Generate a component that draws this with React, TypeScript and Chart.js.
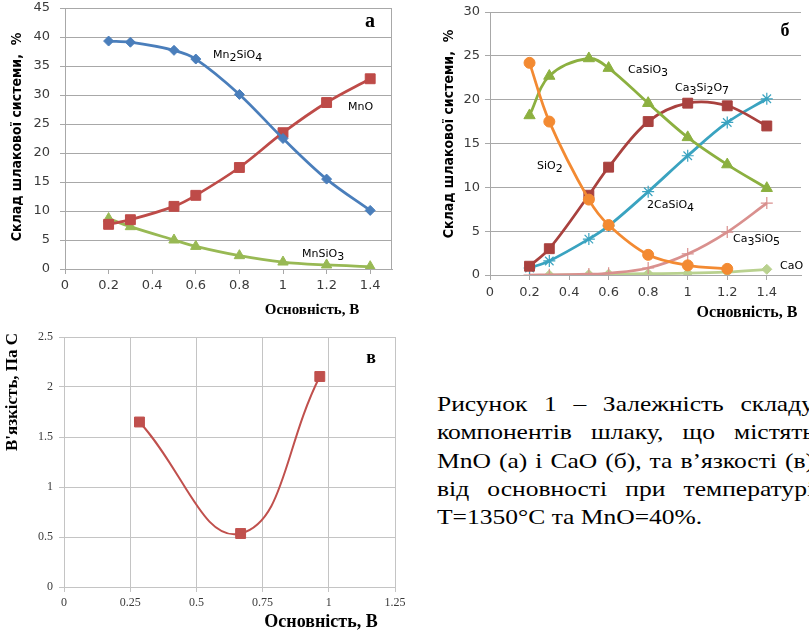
import React, { useEffect, useRef } from "react";
import { Chart, registerables } from "chart.js";
Chart.register(...registerables);

// ---------- Chart а : MnO system ----------
const basicityA = [0.2, 0.3, 0.5, 0.6, 0.8, 1.0, 1.2, 1.4];
const mn2sio4 = [39.3, 39.1, 37.7, 36.2, 30.1, 22.5, 15.5, 10.1];
const mno = [7.7, 8.5, 10.8, 12.7, 17.5, 23.5, 28.7, 32.8];
const mnsio3 = [8.7, 7.3, 5.0, 3.9, 2.3, 1.2, 0.7, 0.4];
const xTicksA = [0, 0.2, 0.4, 0.6, 0.8, 1, 1.2, 1.4];
const yTicksA = [0, 5, 10, 15, 20, 25, 30, 35, 40, 45];

// ---------- Chart б : CaO system ----------
const basicityB = [0.2, 0.3, 0.5, 0.6, 0.8, 1.0, 1.2, 1.4];
const sio2 = [24.2, 17.5, 8.6, 5.7, 2.3, 1.1, 0.7, null];
const casio3 = [18.2, 22.7, 24.7, 23.6, 19.6, 15.7, 12.6, 9.9];
const ca3si2o7 = [1.0, 3.0, 9.1, 12.3, 17.5, 19.6, 19.3, 17.0];
const ca2sio4 = [0.8, 1.6, 4.1, 5.6, 9.5, 13.6, 17.4, 20.1];
const ca3sio5 = [0.0, 0.02, 0.1, 0.2, 0.8, 2.4, 4.9, 8.2];
const cao = [null, 0.0, 0.05, 0.1, 0.15, 0.2, 0.35, 0.65];
const xTicksB = [0, 0.2, 0.4, 0.6, 0.8, 1, 1.2, 1.4];
const yTicksB = [0, 5, 10, 15, 20, 25, 30];

// ---------- Chart в : viscosity ----------
const basicityC = [0.285, 0.667, 0.966];
const viscosity = [1.65, 0.535, 2.105];
const xTicksC = [0, 0.25, 0.5, 0.75, 1, 1.25];
const yTicksC = [0, 0.5, 1, 1.5, 2, 2.5];

const captionLines = [
  "Рисунок 1 – Залежність складу",
  "компонентів шлаку, що містять",
  "MnO (а) і CaO (б), та в’язкості (в)",
  "від основності при температурі",
  "T=1350°C та MnO=40%.",
];

const SANS = "'DejaVu Sans', Verdana, sans-serif";
const SERIF = "'Liberation Serif', 'Times New Roman', serif";
const NARROW = "'Liberation Sans Narrow', 'DejaVu Sans Condensed', 'Arial Narrow', Arial, sans-serif";

type Lbl = {
  text: string;
  x: number;
  y: number;
  font: string;
  color?: string;
  align?: "left" | "center" | "right";
  rot?: number;
};

function drawRich(ctx: CanvasRenderingContext2D, l: Lbl) {
  ctx.save();
  ctx.translate(l.x, l.y);
  if (l.rot) ctx.rotate(l.rot);
  ctx.fillStyle = l.color || "#000";
  ctx.textBaseline = "middle";
  ctx.textAlign = "left";
  const parts = l.text.split(/(_\d)/).filter((p) => p.length);
  const segs = parts.map((p) => (p.startsWith("_") ? { t: p.slice(1), sub: true } : { t: p, sub: false }));
  ctx.font = l.font;
  let total = 0;
  const widths = segs.map((s) => {
    const w = ctx.measureText(s.t).width;
    total += w;
    return w;
  });
  let x0 = l.align === "center" ? -total / 2 : l.align === "right" ? -total : 0;
  segs.forEach((s, i) => {
    ctx.fillText(s.t, x0, s.sub ? 3 : 0);
    x0 += widths[i];
  });
  ctx.restore();
}

const figText = {
  id: "figText",
  afterDraw(chart: any, _a: any, opts: any) {
    const ctx = chart.ctx as CanvasRenderingContext2D;
    const ca = chart.chartArea;
    if (opts.frameRight) {
      ctx.save();
      ctx.strokeStyle = opts.frameColor;
      ctx.lineWidth = 1;
      ctx.beginPath();
      ctx.moveTo(Math.round(ca.right) - 0.5, ca.top);
      ctx.lineTo(Math.round(ca.right) - 0.5, ca.bottom);
      ctx.stroke();
      ctx.restore();
    }
    (opts.labels || []).forEach((l: Lbl) => drawRich(ctx, l));
  },
};

const pts = (xs: number[], ys: (number | null)[]) =>
  xs.map((x, i) => ({ x, y: ys[i] })).filter((p) => p.y !== null) as { x: number; y: number }[];

const fixW = (w: number) => (s: any) => {
  s.width = w;
  s.paddingTop = 0;
  s.paddingBottom = 0;
  s.paddingLeft = 0;
  s.paddingRight = 0;
};
const fixH = (h: number) => (s: any) => {
  s.height = h;
  s.paddingTop = 0;
  s.paddingBottom = 0;
  s.paddingLeft = 0;
  s.paddingRight = 0;
};
const setTicks = (vals: number[]) => (s: any) => {
  s.ticks = vals.map((v) => ({ value: v }));
};

function series(label: string, data: any[], color: string, style: string, radius: number, extra: any = {}) {
  return {
    label,
    data,
    borderColor: color,
    backgroundColor: color,
    borderWidth: 2.75,
    pointStyle: style,
    pointRadius: radius,
    pointBackgroundColor: color,
    pointBorderColor: color,
    pointBorderWidth: 1,
    tension: 0.35,
    fill: false,
    ...extra,
  };
}

function axis(opts: {
  min: number;
  max: number;
  ticks: number[];
  fit: (s: any) => void;
  grid: boolean;
  gridColor: string;
  font: any;
  pad: number;
}) {
  return {
    type: "linear",
    min: opts.min,
    max: opts.max,
    bounds: "data",
    afterBuildTicks: setTicks(opts.ticks),
    afterFit: opts.fit,
    border: { display: true, color: opts.gridColor, width: 1 },
    grid: {
      display: true,
      drawOnChartArea: opts.grid,
      drawTicks: true,
      tickLength: 5,
      color: opts.gridColor,
      lineWidth: 1,
    },
    ticks: {
      autoSkip: false,
      maxRotation: 0,
      minRotation: 0,
      padding: opts.pad,
      color: "#3a3a3a",
      font: opts.font,
      callback: (v: any) => String(v),
    },
    title: { display: false },
  };
}

function configA(): any {
  const grid = "#a8a8a8";
  const f = { family: SANS, size: 13 };
  return {
    type: "line",
    data: {
      datasets: [
        series("Mn2SiO4", pts(basicityA, mn2sio4), "#4a7ebb", "rectRot", 5),
        series("MnO", pts(basicityA, mno), "#be4b48", "rect", 7),
        series("MnSiO3", pts(basicityA, mnsio3), "#98b954", "triangle", 6),
      ],
    },
    options: {
      responsive: false,
      animation: false,
      layout: { padding: { top: 8, right: 5, left: 0, bottom: 0 } },
      plugins: {
        legend: { display: false },
        tooltip: { enabled: false },
        figText: {
          frameRight: true,
          frameColor: grid,
          labels: [
            { text: "Mn_2SiO_4", x: 213, y: 55, font: `11px ${SANS}` },
            { text: "MnO", x: 348, y: 107, font: `11px ${SANS}` },
            { text: "MnSiO_3", x: 302, y: 254, font: `11px ${SANS}` },
            { text: "а", x: 370, y: 22, font: `bold 20px ${SERIF}`, align: "center" },
            { text: "Склад шлакової системи,  %", x: 17, y: 137, font: `bold 14px ${NARROW}`, align: "center", rot: -Math.PI / 2 },
            { text: "Основність, В", x: 312, y: 310, font: `bold 15px ${SERIF}`, align: "center" },
          ],
        },
      },
      scales: {
        x: axis({ min: 0, max: 1.5, ticks: xTicksA, fit: fixH(51), grid: false, gridColor: grid, font: f, pad: 4 }),
        y: axis({ min: 0, max: 45, ticks: yTicksA, fit: fixW(65), grid: true, gridColor: grid, font: f, pad: 10 }),
      },
    },
    plugins: [figText],
  };
}

function configB(): any {
  const grid = "#a8a8a8";
  const f = { family: SANS, size: 13 };
  return {
    type: "line",
    data: {
      datasets: [
        series("SiO2", pts(basicityB, sio2), "#f38a32", "circle", 5.5),
        series("CaSiO3", pts(basicityB, casio3), "#8cb040", "triangle", 6.5),
        series("Ca3Si2O7", pts(basicityB, ca3si2o7), "#a9413e", "rect", 7),
        series("2CaSiO4", pts(basicityB, ca2sio4), "#3aa3c0", "star", 6, { pointBorderWidth: 1.2 }),
        series("Ca3SiO5", pts(basicityB, ca3sio5), "#d9908e", "cross", 6, { pointBorderWidth: 1.2 }),
        series("CaO", pts(basicityB, cao), "#b9d18f", "rectRot", 5),
      ],
    },
    options: {
      responsive: false,
      animation: false,
      layout: { padding: { top: 12, right: 0, left: 0, bottom: 0 } },
      plugins: {
        legend: { display: false },
        tooltip: { enabled: false },
        figText: {
          labels: [
            { text: "CaSiO_3", x: 228, y: 70, font: `11px ${SANS}` },
            { text: "Ca_3Si_2O_7", x: 275, y: 88, font: `11px ${SANS}` },
            { text: "SiO_2", x: 137, y: 166, font: `11px ${SANS}` },
            { text: "2CaSiO_4", x: 247, y: 205, font: `11px ${SANS}` },
            { text: "Ca_3SiO_5", x: 333, y: 239, font: `11px ${SANS}` },
            { text: "CaO", x: 380, y: 266, font: `11px ${SANS}` },
            { text: "б", x: 385, y: 31, font: `bold 18px ${SERIF}`, align: "center" },
            { text: "Склад шлакової системи,  %", x: 49, y: 134, font: `bold 14px ${NARROW}`, align: "center", rot: -Math.PI / 2 },
            { text: "Основність, В", x: 347, y: 313, font: `bold 16px ${SERIF}`, align: "center" },
          ],
        },
      },
      scales: {
        x: axis({ min: 0, max: 1.573, ticks: xTicksB, fit: fixH(45), grid: false, gridColor: grid, font: f, pad: 5 }),
        y: axis({ min: 0, max: 30, ticks: yTicksB, fit: fixW(90), grid: true, gridColor: grid, font: f, pad: 5 }),
      },
    },
    plugins: [figText],
  };
}

function configC(): any {
  const grid = "#c4c4c4";
  const f = { family: SERIF, size: 12 };
  return {
    type: "line",
    data: {
      datasets: [
        series("В'язкість", pts(basicityC, viscosity), "#c0504d", "rect", 7, { borderWidth: 2, tension: 0.45 }),
      ],
    },
    options: {
      responsive: false,
      animation: false,
      layout: { padding: { top: 17, right: 25, left: 0, bottom: 0 } },
      plugins: {
        legend: { display: false },
        tooltip: { enabled: false },
        figText: {
          labels: [
            { text: "в", x: 371, y: 38, font: `bold 18px ${SERIF}`, align: "center" },
            { text: "В'язкість, Па С", x: 13, y: 72, font: `bold 17px ${SERIF}`, align: "center", rot: -Math.PI / 2 },
            { text: "Основність, В", x: 321, y: 302, font: `bold 18px ${SERIF}`, align: "center" },
          ],
        },
      },
      scales: {
        x: axis({ min: 0, max: 1.25, ticks: xTicksC, fit: fixH(46), grid: true, gridColor: grid, font: f, pad: 4 }),
        y: axis({ min: 0, max: 2.5, ticks: yTicksC, fit: fixW(64), grid: true, gridColor: grid, font: f, pad: 6 }),
      },
    },
    plugins: [figText],
  };
}

function ChartBox(props: { left: number; top: number; width: number; height: number; make: () => any }) {
  const ref = useRef<HTMLCanvasElement | null>(null);
  useEffect(() => {
    const chart = new Chart(ref.current as HTMLCanvasElement, props.make());
    return () => chart.destroy();
  }, []);
  return (
    <canvas
      ref={ref}
      width={props.width}
      height={props.height}
      style={{ position: "absolute", left: props.left, top: props.top, width: props.width, height: props.height }}
    />
  );
}

export default function App() {
  return (
    <div
      style={{
        position: "fixed",
        left: 0,
        top: 0,
        width: 809,
        height: 633,
        overflow: "hidden",
        background: "#fff",
      }}
    >
      <ChartBox left={0} top={0} width={400} height={320} make={configA} />
      <ChartBox left={400} top={0} width={409} height={320} make={configB} />
      <ChartBox left={0} top={320} width={420} height={313} make={configC} />
      <div
        style={{
          position: "absolute",
          left: 437,
          top: 390,
          transform: "scaleX(1.16)",
          transformOrigin: "0 0",
          fontFamily: SERIF,
          fontSize: 22,
          lineHeight: "28.3px",
          color: "#000",
          whiteSpace: "nowrap",
        }}
      >
        {captionLines.map((line, i) =>
          i < captionLines.length - 1 ? (
            <div key={i} style={{ display: "flex", justifyContent: "space-between", width: 325 }}>
              {line.split(" ").map((w, j) => (
                <span key={j}>{w}</span>
              ))}
            </div>
          ) : (
            <div key={i}>{line}</div>
          )
        )}
      </div>
    </div>
  );
}
